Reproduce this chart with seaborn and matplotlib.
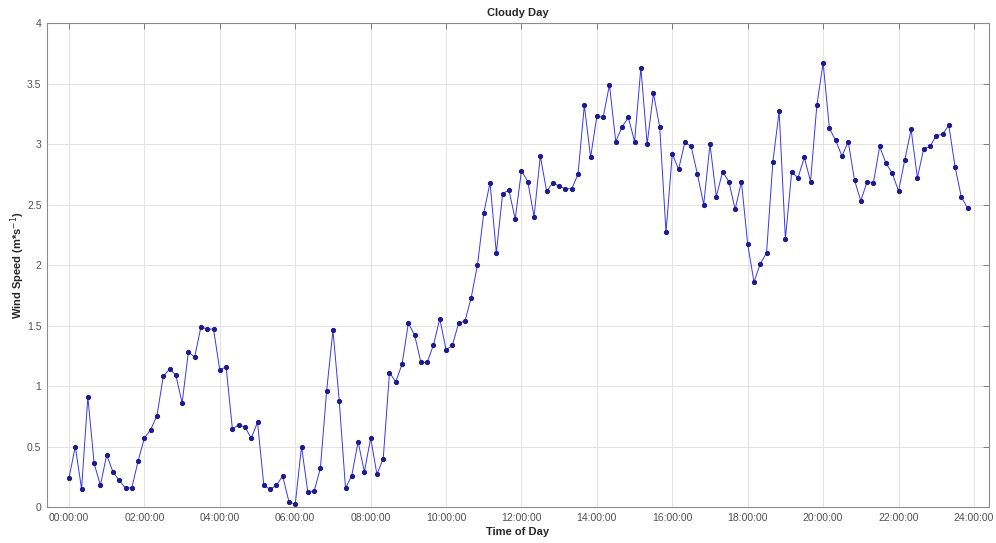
import numpy as np
import pandas as pd
import matplotlib
matplotlib.use("Agg")
import matplotlib.pyplot as plt
from matplotlib.ticker import FuncFormatter, FixedLocator
import seaborn as sns

# 10-minute mean wind speed over a cloudy day (m/s), starting at 00:00
wind_speed = [
    0.24, 0.50, 0.15, 0.91, 0.36, 0.18, 0.43, 0.29, 0.22, 0.155,
    0.16, 0.38, 0.57, 0.64, 0.755, 1.08, 1.14, 1.09, 0.86, 1.28,
    1.24, 1.49, 1.47, 1.47, 1.13, 1.16, 0.645, 0.68, 0.66, 0.57,
    0.70, 0.18, 0.145, 0.18, 0.255, 0.044, 0.022, 0.50, 0.125, 0.13,
    0.32, 0.96, 1.46, 0.88, 0.155, 0.26, 0.54, 0.29, 0.57, 0.27,
    0.40, 1.11, 1.035, 1.18, 1.52, 1.42, 1.195, 1.195, 1.34, 1.555,
    1.30, 1.335, 1.52, 1.535, 1.73, 2.00, 2.43, 2.68, 2.10, 2.59,
    2.62, 2.38, 2.78, 2.69, 2.40, 2.90, 2.61, 2.68, 2.65, 2.63,
    2.63, 2.75, 3.32, 2.89, 3.23, 3.22, 3.49, 3.02, 3.14, 3.22,
    3.02, 3.63, 3.00, 3.42, 3.14, 2.27, 2.92, 2.79, 3.015, 2.98,
    2.75, 2.50, 3.00, 2.565, 2.77, 2.69, 2.46, 2.69, 2.17, 1.86,
    2.01, 2.10, 2.85, 3.27, 2.215, 2.77, 2.72, 2.89, 2.69, 3.32,
    3.67, 3.13, 3.03, 2.90, 3.02, 2.70, 2.53, 2.69, 2.68, 2.98,
    2.84, 2.76, 2.61, 2.87, 3.12, 2.72, 2.96, 2.98, 3.07, 3.08,
    3.155, 2.81, 2.56, 2.47,
]
interval_minutes = 10
time_hours = np.arange(len(wind_speed)) * interval_minutes / 60.0

tick_hours = list(range(0, 25, 2))
tick_labels = [f"{h:02d}:00:00" for h in tick_hours]
y_ticks = [0, 0.5, 1, 1.5, 2, 2.5, 3, 3.5, 4]

df = pd.DataFrame({"Time of Day": time_hours, "Wind Speed": wind_speed})

sns.set_theme(style="whitegrid")
plt.rcParams["font.family"] = ["Liberation Sans", "DejaVu Sans"]

fig = plt.figure(figsize=(9.96, 5.43), dpi=100)
ax = fig.add_axes([0.0472, 0.0663, 0.9458, 0.8913])

sns.lineplot(
    data=df, x="Time of Day", y="Wind Speed", ax=ax,
    color="#3838e6", linewidth=0.7,
    marker="o", markersize=3.0,
    markerfacecolor="#1c1c8c", markeredgecolor="#1c1c8c",
)

ax.set_xlim(-0.583, 24.4)
ax.set_ylim(0, 4)
ax.xaxis.set_major_locator(FixedLocator(tick_hours))
ax.set_xticklabels(tick_labels)
ax.yaxis.set_major_locator(FixedLocator(y_ticks))
ax.yaxis.set_major_formatter(FuncFormatter(lambda v, _: f"{v:g}"))

ax.set_facecolor("white")
ax.grid(True, color="#e3e3e3", linewidth=0.7)
for side in ["left", "right", "top", "bottom"]:
    sp = ax.spines[side]
    sp.set_visible(True)
    sp.set_color("#8c8c8c")
    sp.set_linewidth(0.8)

ax.tick_params(axis="both", which="major", direction="in", length=4,
               width=0.6, color="#6a6a6a", labelsize=7.5, labelcolor="#505050",
               top=True, right=True, pad=4)

ax.set_xlabel("Time of Day", fontsize=8, fontweight="bold", color="#262626", labelpad=3)
ax.set_ylabel("Wind Speed (m*s$^{-1}$)", fontsize=8, fontweight="bold", color="#262626", labelpad=0)
ax.set_title("Cloudy Day", fontsize=8, fontweight="bold", color="#262626", pad=5)

fig.savefig("out.png", dpi=100, facecolor="white")
